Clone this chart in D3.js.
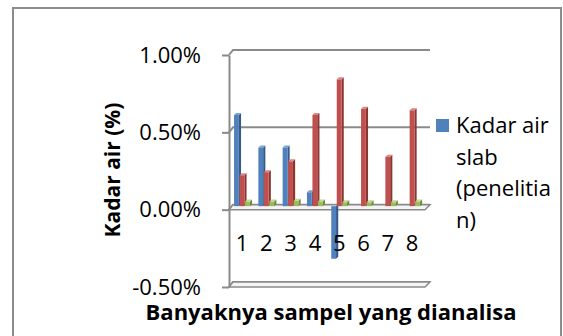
<!DOCTYPE html>
<html>
<head>
<meta charset="utf-8">
<script src="https://cdn.jsdelivr.net/npm/d3@7"></script>
<style>
  html, body { margin: 0; padding: 0; background: #fff; }
  svg { display: block; }
  text { font-family: "Open Sans", "Liberation Sans", sans-serif; fill: #000; }
</style>
</head>
<body>
<svg id="chart" width="563" height="336"></svg>
<script>
// Sample numbers on the category axis
const categories = ["1", "2", "3", "4", "5", "6", "7", "8"];
// Moisture content per sample (fractions, shown as percentages)
const kadarAirSlab = [0.0059, 0.0038, 0.0038, 0.0009, -0.0034, 0, 0, 0];
const seriesRed    = [0.0020, 0.0022, 0.0029, 0.0059, 0.0082, 0.0063, 0.0032, 0.0062];
const seriesGreen  = [0.0003, 0.0003, 0.00035, 0.0003, 0.00025, 0.00025, 0.00025, 0.0003];
const yTicks = [-0.005, 0, 0.005, 0.01];
const legendLines = ["Kadar air", "slab", "(penelitia", "n)"];
const yTitle = "Kadar air (%)";
const xTitle = "Banyaknya sampel yang dianalisa";

const svg = d3.select("#chart");
const gridColor = "#8a8a8a";

// chart area frame
svg.append("rect")
  .attr("x", 13).attr("y", 8).attr("width", 548).attr("height", 340)
  .attr("fill", "#fff").attr("stroke", "#8c8c8c").attr("stroke-width", 2);

// front plane scales
const y = d3.scaleLinear().domain([-0.005, 0.01]).range([287, 55]);
const x = d3.scaleBand().domain(categories).range([229.9, 424.3]).padding(0);

// 3D depth offsets: back wall and bar mid-plane
const back = { dx: 4, dy: -5 };
const mid = { dx: 0, dy: -3.5 };
const xFront0 = 229, xFront1 = 425;

const locale = d3.formatLocale({ decimal: ".", thousands: ",", grouping: [3], currency: ["", ""], minus: "-" });
const fmt = locale.format(".2%");

// back wall gridlines with short left-wall diagonals
const walls = svg.append("g");
yTicks.forEach(t => {
  const yf = y(t), yb = yf + back.dy;
  walls.append("path")
    .attr("d", `M${xFront0},${yf}L${xFront0 + back.dx},${yb}L${xFront1 + 5},${yb}`)
    .attr("fill", "none").attr("stroke", gridColor).attr("stroke-width", 2);
});

// floor slabs at the axis minimum and at zero
[-0.005, 0].forEach(t => {
  const yf = y(t), yb = yf + back.dy;
  walls.append("path")
    .attr("d", `M${xFront0},${yf}L${xFront1},${yf}L${xFront1 + 5},${yb}L${xFront0 + back.dx},${yb}Z`)
    .attr("fill", "#f4f4f4").attr("stroke", gridColor).attr("stroke-width", 1.5);
});

// 3D columns
const series = [
  { values: kadarAirSlab, front: "#4f81bd", side: "#36598a", top: "#7ba1d3", off: -8 },
  { values: seriesRed,    front: "#c0504d", side: "#8a3533", top: "#d98583", off: -2.5 },
  { values: seriesGreen,  front: "#9bbb59", side: "#6e8a3a", top: "#bfd68e", off: 3 }
];
const fw = 4.8, sd = 2.2, sdy = 2;
const bars = svg.append("g");
categories.forEach((c, i) => {
  const cx = x(c) + x.bandwidth() / 2;
  series.forEach(s => {
    const v = s.values[i];
    if (v === 0) return;
    const x0 = cx + s.off;
    const yBase = y(0) + mid.dy, yVal = y(v) + mid.dy;
    const yT = Math.min(yBase, yVal), yB = Math.max(yBase, yVal);
    // side face
    bars.append("path")
      .attr("d", `M${x0 + fw},${yT}L${x0 + fw + sd},${yT - sdy}L${x0 + fw + sd},${yB - sdy}L${x0 + fw},${yB}Z`)
      .attr("fill", s.side);
    // front face
    bars.append("rect")
      .attr("x", x0).attr("y", yT).attr("width", fw).attr("height", yB - yT)
      .attr("fill", s.front);
    // top face for positive columns
    if (v > 0) {
      bars.append("path")
        .attr("d", `M${x0},${yT}L${x0 + sd},${yT - sdy}L${x0 + fw + sd},${yT - sdy}L${x0 + fw},${yT}Z`)
        .attr("fill", s.top);
    }
  });
});

// value axis on the front edge
const yAxis = svg.append("g")
  .attr("transform", `translate(${xFront0},0)`)
  .call(d3.axisLeft(y).tickValues(yTicks).tickFormat(fmt).tickSizeInner(7).tickSizeOuter(0).tickPadding(21));
yAxis.select(".domain").attr("stroke", gridColor).attr("stroke-width", 2);
yAxis.selectAll(".tick line").attr("stroke", gridColor).attr("stroke-width", 2);
yAxis.selectAll("text").style("font-family", "'Open Sans', sans-serif").style("font-size", "22px").attr("fill", "#000");

// category labels below the zero plane
const xAxis = svg.append("g")
  .attr("transform", `translate(0,${y(0)})`)
  .call(d3.axisBottom(x).tickSize(0).tickPadding(26));
xAxis.select(".domain").remove();
xAxis.selectAll("text").style("font-family", "'Open Sans', sans-serif").style("font-size", "22px").attr("fill", "#000");

// axis titles
svg.append("text")
  .attr("transform", "translate(120,170) rotate(-90)")
  .attr("text-anchor", "middle")
  .style("font-size", "21px").style("font-weight", "bold")
  .text(yTitle);
svg.append("text")
  .attr("x", 331).attr("y", 320)
  .attr("text-anchor", "middle")
  .style("font-size", "22px").style("font-weight", "bold")
  .text(xTitle);

// legend
const legend = svg.append("g");
legend.append("rect")
  .attr("x", 436).attr("y", 119).attr("width", 13).attr("height", 13)
  .attr("fill", "#4f81bd");
legendLines.forEach((t, i) => {
  legend.append("text")
    .attr("x", 456).attr("y", 133 + i * 31.7)
    .style("font-size", "22px")
    .text(t);
});
</script>
</body>
</html>
